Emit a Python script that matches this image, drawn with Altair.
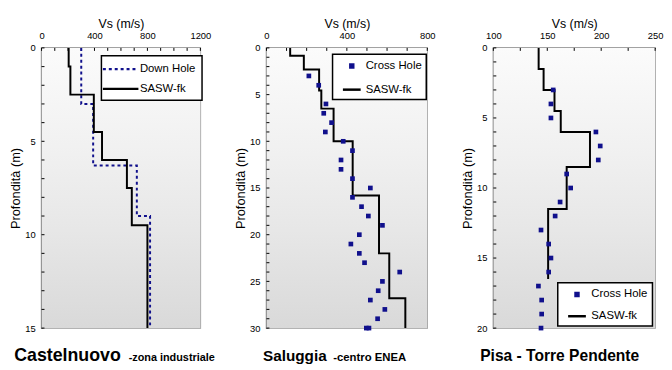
import altair as alt
import pandas as pd

FONT = "Liberation Sans"
NAVY = "#10108c"

# ---------------- Castelnuovo ----------------
cast_sasw_depth = [0, 1, 2.5, 4.5, 6, 7.5, 9.5, 15]
cast_sasw_vs = [205, 218, 395, 457, 645, 682, 800, 800]
cast_dh_depth = [0, 3, 6.3, 9, 15]
cast_dh_vs = [300, 390, 720, 820, 820]
cast_x_labels = [0, 400, 800, 1200]
cast_x_ticks = [0, 100, 200, 300, 400, 500, 600, 700, 800, 900, 1000, 1100, 1200]
cast_y_labels = [0, 5, 10, 15]
cast_y_ticks = [0, 1, 2, 3, 4, 5, 6, 7, 8, 9, 10, 11, 12, 13, 14, 15]
cast_title = ["Castelnuovo", "-zona industriale"]

# ---------------- Saluggia ----------------
sal_sasw_depth = [0, 0.85, 2.3, 4.55, 6.5, 10, 15.8, 22, 26.8, 30]
sal_sasw_vs = [118, 186, 262, 273, 334, 429, 560, 611, 691, 691]
sal_ch_depth = [3, 4, 6, 7, 8, 9, 10, 11, 12, 13, 14, 15, 16, 17, 18, 19, 20,
                21, 22, 23, 24, 25, 26, 27, 28, 29, 30, 30]
sal_ch_vs = [211, 260, 296, 285, 324, 293, 382, 428, 371, 371, 428, 517, 428,
             473, 507, 577, 462, 420, 462, 488, 663, 577, 556, 517, 589, 553,
             497, 510]
sal_x_labels = [0, 400, 800]
sal_x_ticks = [0, 100, 200, 300, 400, 500, 600, 700, 800]
sal_y_labels = [0, 5, 10, 15, 20, 25, 30]
sal_y_ticks = list(range(0, 31))
sal_title = ["Saluggia", "-centro ENEA"]

# ---------------- Pisa ----------------
pisa_sasw_depth = [0, 1.5, 3, 4.5, 6, 8.5, 11.5, 16.5]
pisa_sasw_vs = [142, 146.6, 156.7, 162.5, 189.6, 168, 150.8, 150.8]
pisa_ch_depth = [3, 4, 5, 6, 7, 8, 9, 10, 11, 12, 13, 14, 15, 16, 17, 18, 19, 20]
pisa_ch_vs = [155.5, 153.4, 153.4, 195.1, 199.1, 197.3, 168.0, 171.7, 161.9,
              157.3, 144.2, 151.3, 153.4, 151.3, 141.8, 144.8, 144.8, 144.2]
pisa_x_labels = [100, 150, 200, 250]
pisa_x_ticks = [100, 125, 150, 175, 200, 225, 250]
pisa_y_labels = [0, 5, 10, 15, 20]
pisa_y_ticks = list(range(0, 21))
pisa_title = ["Pisa - Torre Pendente"]

H = 284
SQ = "M-0.25,-0.25H0.25V0.25H-0.25Z"
LN = "M-1.5,0H1.5"


def axes(xdom, ydom, xvals, yvals):
    xsc = alt.Scale(domain=xdom, nice=False, zero=False)
    ysc = alt.Scale(domain=ydom, nice=False, zero=False, reverse=True)
    xax = alt.Axis(orient="top", title="Vs (m/s)", values=xvals, ticks=False,
                   grid=False, labelPadding=8, titlePadding=0, labelFlush=False,
                   domainColor="black", domainWidth=1, format="d")
    yax = alt.Axis(orient="left", title="Profondità (m)", values=yvals,
                   ticks=False, grid=False, labelPadding=6.5, titlePadding=2.5,
                   labelFlush=False, domainColor="black", domainWidth=1,
                   titleFontSize=13)
    return xsc, ysc, xax, yax


def base_layers(W, xsc, ysc, xax, yax, xticks, yticks):
    bg = alt.Chart(pd.DataFrame({"k": [0]})).mark_rect(
        color=alt.Gradient(
            gradient="linear", x1=0, x2=0, y1=0, y2=1,
            stops=[alt.GradientStop(offset=0, color="#fbfbfb"),
                   alt.GradientStop(offset=0.35, color="#f1f1f1"),
                   alt.GradientStop(offset=0.65, color="#e7e7e7"),
                   alt.GradientStop(offset=1, color="#d9d9d9")])
    ).encode(x=alt.value(0), x2=alt.value(W), y=alt.value(0), y2=alt.value(H))
    ytk = alt.Chart(pd.DataFrame({"d": yticks})).mark_rule(
        color="black", strokeWidth=1).encode(
        y=alt.Y("d:Q", scale=ysc, axis=yax), x=alt.value(0), x2=alt.value(3))
    xtk = alt.Chart(pd.DataFrame({"v": xticks})).mark_rule(
        color="black", strokeWidth=1).encode(
        x=alt.X("v:Q", scale=xsc, axis=xax), y=alt.value(0), y2=alt.value(3))
    return [bg, ytk, xtk]


def title_layers(parts, xs, sizes):
    out = []
    for t, x, s in zip(parts, xs, sizes):
        out.append(alt.Chart(pd.DataFrame({"t": [t]})).mark_text(
            align="left", baseline="alphabetic", font=FONT, fontSize=s,
            fontWeight="bold", color="black").encode(
            text="t:N", x=alt.value(x), y=alt.value(H + 33)))
    return out


def legend(x, y, pad, rowpad, symoff, laboff, symtype=None):
    kw = dict(title=None, orient="none", legendX=x, legendY=y,
              fillColor="white", strokeColor="black", padding=pad,
              rowPadding=rowpad, symbolSize=144, symbolStrokeWidth=2.5,
              symbolOffset=symoff, labelOffset=laboff, labelFont=FONT,
              labelFontSize=11.5, labelColor="black",
              labelExpr="datum.label + '\u00a0\u00a0'")
    if symtype:
        kw["symbolType"] = symtype
    return alt.Legend(**kw)


# ---------- Panel 1 ----------
W1 = 161
xsc, ysc, xax, yax = axes([0, 1200], [0, 15], cast_x_labels, cast_y_labels)
line1 = pd.DataFrame({
    "vs": cast_dh_vs + cast_sasw_vs,
    "depth": cast_dh_depth + cast_sasw_depth,
    "series": ["Down Hole"] * len(cast_dh_vs) + ["SASW-fk"] * len(cast_sasw_vs),
})
line1["i"] = range(len(line1))
leg1 = legend(60.7, 8, 6, 7, 6, 12, symtype="M-3,0H3")
l1 = alt.Chart(line1).mark_line(interpolate="step-before", strokeWidth=2,
                                strokeCap="butt").encode(
    x=alt.X("vs:Q", scale=xsc, axis=xax),
    y=alt.Y("depth:Q", scale=ysc, axis=yax),
    color=alt.Color("series:N", scale=alt.Scale(domain=["Down Hole", "SASW-fk"],
                                                range=[NAVY, "black"]), legend=leg1),
    strokeDash=alt.StrokeDash("series:N", scale=alt.Scale(
        domain=["Down Hole", "SASW-fk"], range=[[3, 3], [1, 0]]), legend=leg1),
    order=alt.Order("i:Q"),
)
p1 = alt.layer(*base_layers(W1, xsc, ysc, xax, yax, cast_x_ticks, cast_y_ticks), l1,
               *title_layers(cast_title, [-27.7, 88.3], [18, 11])
               ).properties(width=W1, height=H)


def ch_panel(W, xdom, ydom, xl, yl, xt, yt, sd, sv, cd, cv, leg, tparts, txs, tsz):
    xsc, ysc, xax, yax = axes(xdom, ydom, xl, yl)
    ldf = pd.DataFrame({"vs": sv, "depth": sd, "series": ["SASW-fk"] * len(sv)})
    ldf["i"] = range(len(ldf))
    pdf = pd.DataFrame({"vs": cv, "depth": cd, "series": ["Cross Hole"] * len(cv)})
    csc = alt.Scale(domain=["Cross Hole", "SASW-fk"], range=[NAVY, "black"])
    ssc = alt.Scale(domain=["Cross Hole", "SASW-fk"], range=[SQ, LN])
    ln = alt.Chart(ldf).mark_line(interpolate="step-before", strokeWidth=2,
                                  strokeCap="butt").encode(
        x=alt.X("vs:Q", scale=xsc, axis=xax),
        y=alt.Y("depth:Q", scale=ysc, axis=yax),
        color=alt.Color("series:N", scale=csc, legend=leg),
        order=alt.Order("i:Q"))
    pt = alt.Chart(pdf).mark_point(filled=True, size=360, opacity=1).encode(
        x=alt.X("vs:Q", scale=xsc, axis=xax),
        y=alt.Y("depth:Q", scale=ysc, axis=yax),
        color=alt.Color("series:N", scale=csc, legend=leg),
        shape=alt.Shape("series:N", scale=ssc, legend=leg))
    return alt.layer(*base_layers(W, xsc, ysc, xax, yax, xt, yt), ln, pt,
                     *title_layers(tparts, txs, tsz)).properties(width=W, height=H)


W2 = 163
p2 = ch_panel(W2, [0, 800], [0, 30], sal_x_labels, sal_y_labels, sal_x_ticks,
              sal_y_ticks, sal_sasw_depth, sal_sasw_vs, sal_ch_depth, sal_ch_vs,
              legend(67, 6.3, 4.5, 10, 7.5, 6.6), sal_title, [-3.5, 67.7], [15.5, 11.5])
W3 = 164
p3 = ch_panel(W3, [100, 250], [0, 20], pisa_x_labels, pisa_y_labels, pisa_x_ticks,
              pisa_y_ticks, pisa_sasw_depth, pisa_sasw_vs, pisa_ch_depth, pisa_ch_vs,
              legend(65.3, 238, 4.5, 8, 7.5, 7), pisa_title, [-13.3], [15.8])

chart = alt.hconcat(p1, p2, p3, spacing=67, bounds="flush").resolve_scale(
    color="independent", shape="independent", strokeDash="independent",
    x="independent", y="independent"
).resolve_legend(
    color="independent", shape="independent", strokeDash="independent"
).properties(
    padding={"left": 0, "top": 6, "right": 0, "bottom": 0}
).configure_view(stroke="#9a9a9a", strokeWidth=1.5).configure_axis(
    labelFont=FONT, titleFont=FONT, labelFontSize=9.5, titleFontSize=12.5,
    titleFontWeight="normal", labelColor="black", titleColor="black"
).configure_legend(strokeWidth=1.5)

chart.save("out.html", embed_options={"renderer": "svg", "actions": False})
